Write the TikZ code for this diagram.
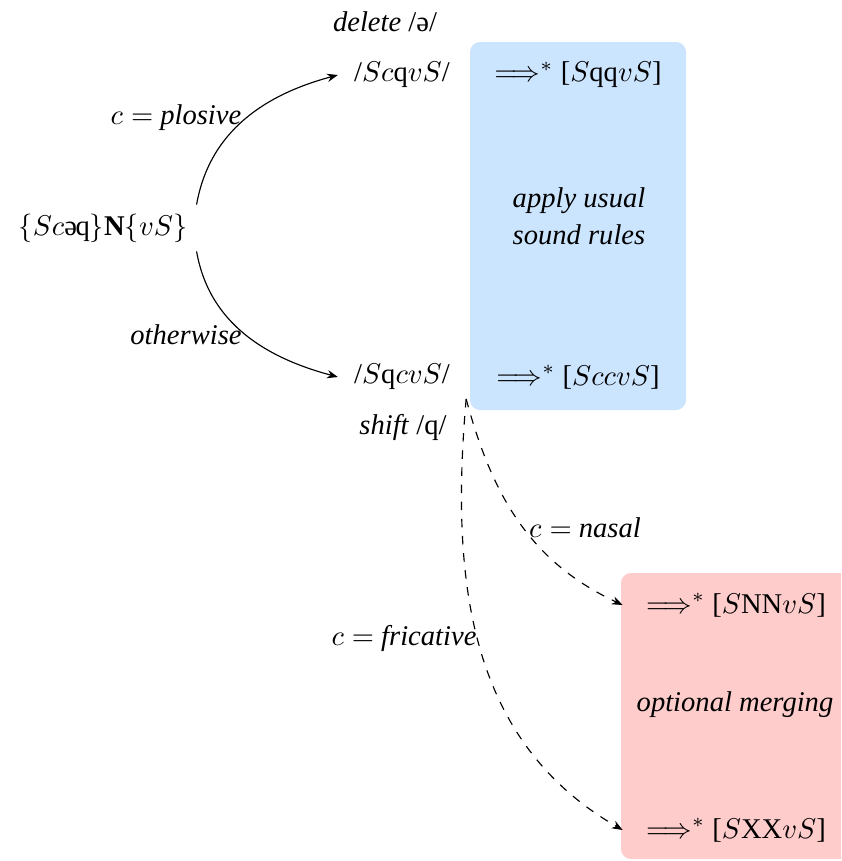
\documentclass[tikz,border=0pt]{standalone}
\usepackage{fontspec}
\setmainfont{Liberation Serif}
\usetikzlibrary{arrows.meta}
\definecolor{boxblue}{RGB}{204,229,255}
\definecolor{boxred}{RGB}{255,204,204}
\begin{document}
\begin{tikzpicture}[x=0.35pt,y=-0.35pt,
  txt/.style={inner sep=3pt},
  form/.style={inner xsep=5.5pt, inner ysep=3pt},
  lbl/.style={font=\itshape, inner sep=1pt},
  flow/.style={-{Stealth[length=3.8pt,width=2.9pt]}, line width=0.4pt},
  alt/.style={flow, dashed},
  panel/.style={rounded corners=3.5pt}]
\useasboundingbox (0,0) rectangle (841,861);
\clip (0,0) rectangle (841,861);

% shaded regions
\fill[boxblue, panel] (470,42) rectangle (686,410);
\fill[boxred, panel] (621,573) rectangle (856,859);

% starting form
\node[txt] (s) at (103,228) {$\{Sc$ə\kern-0.5pt q$\}$\textbf{N}$\{vS\}$};

% two branches
\node[lbl] (del) at (385,22) {delete \textup{/ə/}};
\node[form] (t) at (402,75) {/$Sc$q$vS$/};
\node[txt] (r1) at (578,75) {$\Longrightarrow^{*}$ [$S$qq$vS$]};
\node[lbl, align=center] (apply) at (579,216) {apply usual\\[1pt]sound rules};
\node[form] (b) at (402,377) {/$S$q$cvS$/};
\node[txt] (r2) at (578,377) {$\Longrightarrow^{*}$ [$SccvS$]};
\node[lbl] (shift) at (403,427) {shift \textup{/q/}};

% merging results
\node[txt] (n) at (736,605) {$\Longrightarrow^{*}$ [$S$NN$vS$]};
\node[lbl] (merge) at (735,705) {optional merging};
\node[txt] (x) at (736,830) {$\Longrightarrow^{*}$ [$S$XX$vS$]};

% edge labels
\node[lbl] (plos) at (176,118) {$c=$ plosive};
\node[lbl] (other) at (186,335) {otherwise};
\node[lbl] (nas) at (585,528) {$c=$ nasal};
\node[lbl] (fric) at (404,638) {$c=$ fricative};

% connectors
\draw[flow] (s.north east) to[out=80,in=195] (t.west);
\draw[flow] (s.south east) to[out=-80,in=165] (b.west);
\draw[alt] (b.south east) to[out=-75,in=155] ([xshift=-5pt]n.west);
\draw[alt] (b.south east) to[out=-95,in=150] ([xshift=-5pt]x.west);
\end{tikzpicture}
\end{document}
